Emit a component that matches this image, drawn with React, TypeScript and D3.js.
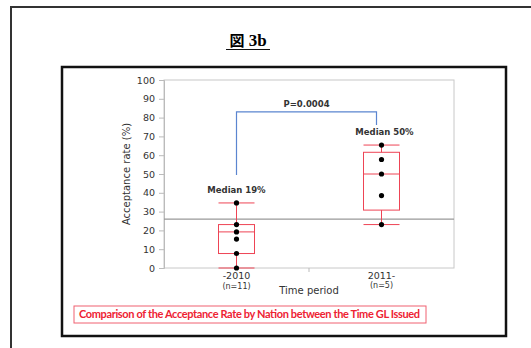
import React, { useEffect, useRef } from "react";
import * as d3 from "d3";

const groups = ["-2010", "2011-"];
const groupCounts = ["(n=11)", "(n=5)"];
const rates2010 = [0, 7.7, 7.7, 15.4, 19.2, 19.2, 19.2, 23.1, 23.1, 23.1, 34.6];
const rates2011 = [23.1, 38.5, 50, 57.7, 65.4];
const medianLabels = ["Median 19%", "Median 50%"];
const yTicks = [0, 10, 20, 30, 40, 50, 60, 70, 80, 90, 100];
const referenceLine = 26;
const pValue = "P=0.0004";
const bracketLevels = [49.5, 83, 76];

// Minitab style quartile: position p*(n+1)
const quart = (sorted: number[], p: number) => {
  const pos = p * (sorted.length + 1);
  const lo = Math.max(1, Math.floor(pos));
  const hi = Math.min(sorted.length, lo + 1);
  const f = pos - Math.floor(pos);
  return sorted[lo - 1] + (sorted[hi - 1] - sorted[lo - 1]) * f;
};

const App = () => {
  const ref = useRef<SVGSVGElement>(null);

  useEffect(() => {
    const svg = d3.select(ref.current);
    svg.selectAll("*").remove();

    // page frames
    svg.append("path").attr("d", "M11,348 V7 H531").attr("fill", "none").attr("stroke", "#333").attr("stroke-width", 2);
    svg.append("rect").attr("x", 62).attr("y", 67).attr("width", 444).attr("height", 269)
      .attr("fill", "#fff").attr("stroke", "#111").attr("stroke-width", 2.5);

    // title
    const title = svg.append("text").attr("x", 248).attr("y", 46).attr("text-anchor", "middle")
      .style("font-weight", "bold").style("font-size", "17px").style("font-family", "'Liberation Serif', serif");
    title.append("tspan").style("font-family", "'Noto Sans CJK JP'").style("font-size", "15px").text("図");
    title.append("tspan").text(" 3b");
    svg.append("line").attr("x1", 226).attr("x2", 270).attr("y1", 49.5).attr("y2", 49.5).attr("stroke", "#111").attr("stroke-width", 1.2);

    const left = 164, right = 454, top = 80, bottom = 268;
    const x = d3.scaleBand().domain(groups).range([left, right]);
    const y = d3.scaleLinear().domain([0, 100]).range([bottom, top]);
    const cx = (g: string) => (x(g) ?? 0) + x.bandwidth() / 2;

    // plot border
    svg.append("rect").attr("x", left).attr("y", top).attr("width", right - left).attr("height", bottom - top)
      .attr("fill", "none").attr("stroke", "#c8c8c8");

    const yAxis = svg.append("g").attr("transform", `translate(${left},0)`)
      .call(d3.axisLeft(y).tickValues(yTicks).tickSize(5).tickPadding(4));
    yAxis.select(".domain").attr("stroke", "#bbb");
    yAxis.selectAll(".tick line").attr("stroke", "#bbb");
    yAxis.selectAll("text").style("font-family", "'DejaVu Sans'").style("font-size", "9.5px").attr("fill", "#333");

    // x middle tick
    svg.append("line").attr("x1", (left + right) / 2).attr("x2", (left + right) / 2).attr("y1", bottom).attr("y2", bottom + 4).attr("stroke", "#bbb");

    // reference line
    svg.append("line").attr("x1", left).attr("x2", right).attr("y1", y(referenceLine)).attr("y2", y(referenceLine))
      .attr("stroke", "#999").attr("stroke-width", 1.2);

    const data = [rates2010, rates2011];
    const boxW = 36;
    data.forEach((vals, i) => {
      const g = groups[i];
      const c = cx(g);
      const s = vals.slice().sort((a, b) => a - b);
      const q1 = quart(s, 0.25), med = quart(s, 0.5), q3 = quart(s, 0.75);
      const lo = d3.min(s)!, hi = d3.max(s)!;
      const red = "#ee4455";
      svg.append("line").attr("x1", c).attr("x2", c).attr("y1", y(hi)).attr("y2", y(q3)).attr("stroke", red);
      svg.append("line").attr("x1", c).attr("x2", c).attr("y1", y(q1)).attr("y2", y(lo)).attr("stroke", red);
      [hi, lo].forEach((v) => {
        svg.append("line").attr("x1", c - boxW / 2).attr("x2", c + boxW / 2).attr("y1", y(v)).attr("y2", y(v)).attr("stroke", red);
      });
      svg.append("rect").attr("x", c - boxW / 2).attr("y", y(q3)).attr("width", boxW).attr("height", y(q1) - y(q3))
        .attr("fill", "none").attr("stroke", red);
      svg.append("line").attr("x1", c - boxW / 2).attr("x2", c + boxW / 2).attr("y1", y(med)).attr("y2", y(med)).attr("stroke", red);
      svg.selectAll(null).data(Array.from(new Set(s))).enter().append("circle")
        .attr("cx", c).attr("cy", (d) => y(d)).attr("r", 2.6).attr("fill", "#000");

      svg.append("text").attr("x", c + (i === 1 ? 3 : 0)).attr("y", y(hi) - 10).attr("text-anchor", "middle")
        .style("font-family", "'DejaVu Sans'").style("font-weight", "bold").style("font-size", "8.5px")
        .attr("fill", "#333").text(medianLabels[i]);

      svg.append("text").attr("x", c).attr("y", bottom + 11).attr("text-anchor", "middle")
        .style("font-family", "'DejaVu Sans'").style("font-size", "9.5px").attr("fill", "#333").text(g);
      svg.append("text").attr("x", c).attr("y", bottom + (i === 0 ? 21 : 20)).attr("text-anchor", "middle")
        .style("font-family", "'DejaVu Sans'").style("font-size", "8px").attr("fill", "#333").text(groupCounts[i]);
    });

    // significance bracket
    const b1 = cx(groups[0]), b2 = cx(groups[1]) - 5;
    svg.append("path")
      .attr("d", `M${b1},${y(bracketLevels[0])} V${y(bracketLevels[1])} H${b2} V${y(bracketLevels[2])}`)
      .attr("fill", "none").attr("stroke", "#5b85d0").attr("stroke-width", 1.2);
    svg.append("text").attr("x", (b1 + b2) / 2).attr("y", y(bracketLevels[1]) - 5).attr("text-anchor", "middle")
      .style("font-family", "'DejaVu Sans'").style("font-weight", "bold").style("font-size", "8.5px")
      .attr("fill", "#333").text(pValue);

    // axis titles
    svg.append("text").attr("transform", `translate(130,${(top + bottom) / 2}) rotate(-90)`).attr("text-anchor", "middle")
      .style("font-family", "'DejaVu Sans'").style("font-size", "10px").attr("fill", "#333").text("Acceptance rate (%)");
    svg.append("text").attr("x", (left + right) / 2).attr("y", 294).attr("text-anchor", "middle")
      .style("font-family", "'DejaVu Sans'").style("font-size", "10px").attr("fill", "#333").text("Time period");

    // caption
    svg.append("rect").attr("x", 74).attr("y", 306).attr("width", 352).attr("height", 17)
      .attr("fill", "#fff").attr("stroke", "#f06070").attr("stroke-width", 1);
    svg.append("text").attr("x", 79).attr("y", 318).attr("textLength", 341)
      .style("font-family", "Lato").style("font-weight", "bold").style("font-size", "11px")
      .attr("fill", "#ee2233").text("Comparison of the Acceptance Rate by Nation between the Time GL Issued");
  }, []);

  return (
    <svg ref={ref} width={531} height={348} style={{ position: "absolute", left: 0, top: 0, background: "#fff" }} />
  );
};

export default App;
